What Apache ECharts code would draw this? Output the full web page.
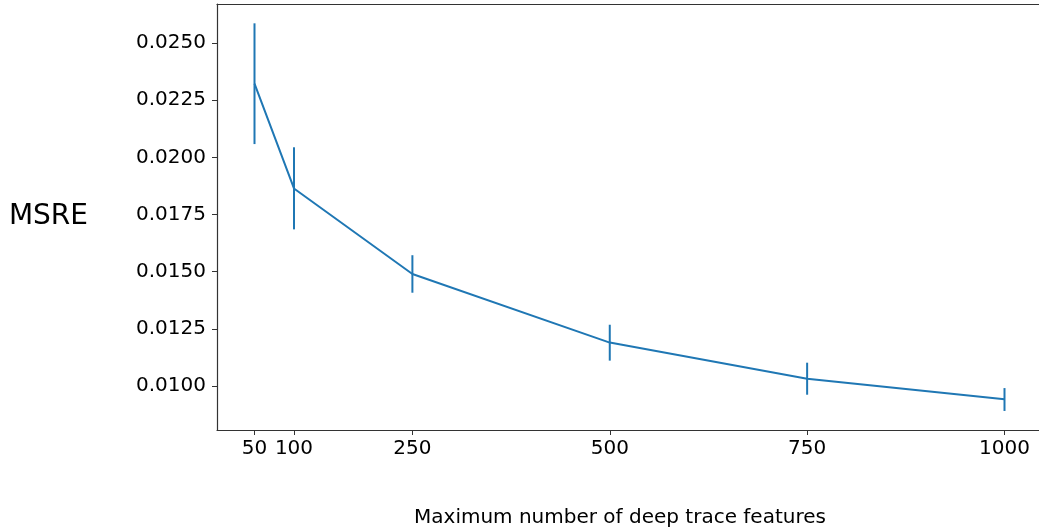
<!DOCTYPE html>
<html>
<head>
<meta charset="utf-8">
<script src="https://cdn.jsdelivr.net/npm/echarts@6/dist/echarts.min.js"></script>
<style>html,body{margin:0;padding:0;background:#fff}#c{width:1039px;height:529px}</style>
</head>
<body>
<div id="c"></div>
<script>
const features = [50, 100, 250, 500, 750, 1000];
const msre = [0.02322, 0.01864, 0.01490, 0.01190, 0.01032, 0.00942];
const errLow = [0.02058, 0.01685, 0.01408, 0.01111, 0.00962, 0.00891];
const errHigh = [0.02586, 0.02044, 0.01572, 0.01268, 0.01102, 0.00991];
const xTicks = [50, 100, 250, 500, 750, 1000];
const yTicks = [0.0100, 0.0125, 0.0150, 0.0175, 0.0200, 0.0225, 0.0250];

const color = '#1f77b4';
const font = 'DejaVu Sans';
const chart = echarts.init(document.getElementById('c'));
chart.setOption({
  animation: false,
  grid: { left: 217, right: 0, top: 4, bottom: 99, containLabel: false, outerBoundsMode: 'none' },
  xAxis: [{
    type: 'value', min: 2.5, max: 1043.7,
    name: 'Maximum number of deep trace features',
    nameLocation: 'middle', nameGap: 78,
    nameTextStyle: { fontFamily: font, fontSize: 20, color: '#000', padding: [0, 16, 0, 0] },
    axisLine: { lineStyle: { color: '#333', width: 1.2 } },
    axisTick: { show: true, length: 5, lineStyle: { color: '#333' }, customValues: xTicks },
    axisLabel: { fontFamily: font, fontSize: 20, color: '#000', margin: 9, customValues: xTicks,
      formatter: v => String(v) },
    splitLine: { show: false }
  }, {
    type: 'value', position: 'top', min: 2.5, max: 1043.7,
    axisLine: { show: true, lineStyle: { color: '#333', width: 1.2 } },
    axisTick: { show: false }, axisLabel: { show: false }, splitLine: { show: false }
  }],
  yAxis: {
    type: 'value', min: 0.008077, max: 0.026705,
    name: 'MSRE', nameLocation: 'middle', nameRotate: 0, nameGap: 129,
    nameTextStyle: { fontFamily: font, fontSize: 28, color: '#000' },
    axisLine: { show: true, lineStyle: { color: '#333', width: 1.2 } },
    axisTick: { show: true, length: 5, lineStyle: { color: '#333' }, customValues: yTicks },
    axisLabel: { fontFamily: font, fontSize: 20, color: '#000', margin: 11, customValues: yTicks,
      formatter: v => v.toFixed(4) },
    splitLine: { show: false }
  },
  series: [{
    type: 'line',
    data: features.map((f, i) => [f, msre[i]]),
    symbol: 'none',
    lineStyle: { color: color, width: 2 },
    z: 3
  }, {
    type: 'custom',
    data: features.map((f, i) => [f, errLow[i], errHigh[i]]),
    renderItem: function (params, api) {
      const p1 = api.coord([api.value(0), api.value(1)]);
      const p2 = api.coord([api.value(0), api.value(2)]);
      return {
        type: 'line',
        shape: { x1: p1[0], y1: p1[1], x2: p2[0], y2: p2[1] },
        style: { stroke: color, lineWidth: 2 }
      };
    },
    z: 4
  }]
});
</script>
</body>
</html>
